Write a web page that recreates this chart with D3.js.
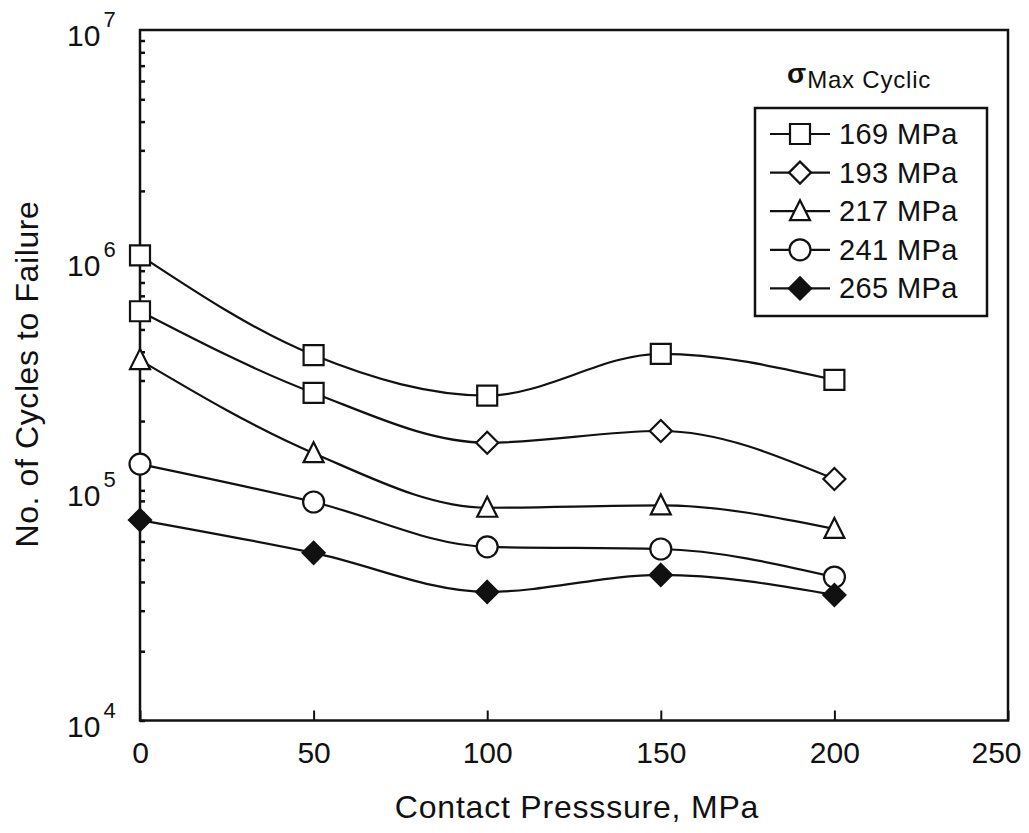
<!DOCTYPE html>
<html>
<head>
<meta charset="utf-8">
<script src="https://cdn.jsdelivr.net/npm/d3@7"></script>
<style>
  body { margin: 0; background: #fff; }
  svg { display: block; font-family: "Liberation Sans", Arial, sans-serif; }
</style>
</head>
<body>
<svg id="chart" width="1029" height="833"></svg>
<script>
// data
var pressures = [0, 50, 100, 150, 200];
var stressLabels = ["169 MPa", "193 MPa", "217 MPa", "241 MPa", "265 MPa"];
var cycles169 = [1.05e6, 3.87e5, 2.58e5, 3.92e5, 3.02e5];
var cycles193 = [6.0e5, 2.65e5, 1.61e5, 1.81e5, 1.12e5];
var cycles217 = [3.68e5, 1.45e5, 8.4e4, 8.6e4, 6.8e4];
var cycles241 = [1.30e5, 8.9e4, 5.68e4, 5.56e4, 4.2e4];
var cycles265 = [7.43e4, 5.35e4, 3.62e4, 4.29e4, 3.51e4];
var symbolNames = ["square", "diamond", "triangle", "circle", "filledDiamond"];
// the 193 MPa curve is drawn with squares on its first two points in the original
var symbols193 = ["square", "square", "diamond", "diamond", "diamond"];
var xTicks = [0, 50, 100, 150, 200, 250];
var yDecades = [1e4, 1e5, 1e6, 1e7];

var allCycles = [cycles169, cycles193, cycles217, cycles241, cycles265];

var svg = d3.select("#chart");
var plotLeft = 140, plotRight = 1008, plotTop = 30, plotBottom = 720.5;

var x = d3.scaleLinear().domain([0, 250]).range([plotLeft, plotRight]);
var y = d3.scaleLog().domain([1e4, 1e7]).range([plotBottom, plotTop]);

function markerPath(name, size) {
    var h = size / 2;
    if (name == "square")
        return "M" + (-h) + "," + (-h) + "H" + h + "V" + h + "H" + (-h) + "Z";
    if (name == "diamond" || name == "filledDiamond")
        return "M0," + (-h - 1) + "L" + (h + 1) + ",0L0," + (h + 1) + "L" + (-h - 1) + ",0Z";
    if (name == "triangle")
        return "M0," + (-h - 1) + "L" + h + "," + (h - 1) + "L" + (-h) + "," + (h - 1) + "Z";
    // circle
    return "M" + h + ",0A" + h + "," + h + " 0 1,1 " + (-h) + ",0A" + h + "," + h + " 0 1,1 " + h + ",0Z";
}

// y axis: minor ticks inside
var yTickVals = [];
yDecades.forEach(function(d, i) {
    if (i < yDecades.length - 1) {
        for (var k = 1; k < 10; k++) yTickVals.push(d * k);
    }
});
var yAxis = d3.axisLeft(y).tickValues(yTickVals).tickSize(-5).tickFormat("");
svg.append("g")
    .attr("transform", "translate(" + plotLeft + ",0)")
    .call(yAxis)
    .call(function(g) { g.select(".domain").remove(); })
    .selectAll("line").attr("stroke", "#111").attr("stroke-width", 2.5);

// x axis: ticks inside, pointing up
var xAxis = d3.axisBottom(x).tickValues(xTicks).tickSize(-10).tickFormat(d3.format("d"));
var gx = svg.append("g")
    .attr("transform", "translate(0," + plotBottom + ")")
    .call(xAxis);
gx.select(".domain").remove();
gx.selectAll("line").attr("stroke", "#111").attr("stroke-width", 2);
gx.selectAll("text")
    .attr("y", 42)
    .attr("dy", null)
    .attr("x", function(d) { return d == 250 ? -12 : 0; })
    .attr("fill", "#111")
    .style("font-size", "30px")
    .style("font-family", "Liberation Sans, Arial, sans-serif");

// plot frame
svg.append("rect")
    .attr("x", plotLeft).attr("y", plotTop)
    .attr("width", plotRight - plotLeft).attr("height", plotBottom - plotTop)
    .attr("fill", "none").attr("stroke", "#111").attr("stroke-width", 2.5);

// decade labels 10^n
var yLab = svg.append("g").selectAll("text")
    .data(yDecades)
    .enter().append("text")
    .attr("x", 67)
    .attr("y", function(d) { return y(d) + 16; })
    .attr("fill", "#111")
    .style("font-size", "30px");
yLab.append("tspan").text("10");
yLab.append("tspan")
    .attr("dx", 3).attr("dy", -19)
    .style("font-size", "22px")
    .text(function(d) { return Math.round(Math.log10(d)); });

// axis titles
svg.append("text")
    .attr("x", 577).attr("y", 818)
    .attr("text-anchor", "middle")
    .attr("fill", "#111")
    .style("font-size", "32px")
    .style("letter-spacing", "0.8px")
    .text("Contact Presssure, MPa");

svg.append("text")
    .attr("transform", "translate(38,374) rotate(-90)")
    .attr("text-anchor", "middle")
    .attr("fill", "#111")
    .style("font-size", "32px")
    .style("letter-spacing", "0.6px")
    .text("No. of Cycles to Failure");

// curves
var line = d3.line()
    .x(function(d, i) { return x(pressures[i]); })
    .y(function(d) { return y(d); })
    .curve(d3.curveMonotoneX);

svg.append("g").selectAll("path")
    .data(allCycles)
    .enter().append("path")
    .attr("d", line)
    .attr("fill", "none")
    .attr("stroke", "#111")
    .attr("stroke-width", 2.2);

allCycles.forEach(function(series, s) {
    svg.append("g").selectAll("path")
        .data(series)
        .enter().append("path")
        .attr("transform", function(d, i) { return "translate(" + x(pressures[i]) + "," + y(d) + ")"; })
        .attr("d", function(d, i) {
            var name = s == 1 ? symbols193[i] : symbolNames[s];
            return markerPath(name, name == "circle" ? 21 : 20);
        })
        .attr("fill", symbolNames[s] == "filledDiamond" ? "#111" : "#fff")
        .attr("stroke", "#111")
        .attr("stroke-width", 2.2);
});

// legend
var legX = 755, legY = 108, legW = 232, legH = 208;
var title = svg.append("text")
    .attr("x", 787).attr("y", 83)
    .attr("fill", "#111");
title.append("tspan").style("font-size", "28px").style("font-weight", "bold").text("σ");
title.append("tspan").attr("dy", 5).attr("dx", 1).style("font-size", "24px").style("letter-spacing", "0.8px").text("Max Cyclic");

svg.append("rect")
    .attr("x", legX).attr("y", legY)
    .attr("width", legW).attr("height", legH)
    .attr("fill", "#fff").attr("stroke", "#111").attr("stroke-width", 2.5);

var rows = svg.append("g").selectAll("g")
    .data(stressLabels)
    .enter().append("g")
    .attr("transform", function(d, i) { return "translate(0," + (134 + i * 38.6) + ")"; });

rows.append("line")
    .attr("x1", 770).attr("x2", 830)
    .attr("stroke", "#111").attr("stroke-width", 2.2);
rows.append("path")
    .attr("transform", "translate(800,0)")
    .attr("d", function(d, i) { return markerPath(symbolNames[i], symbolNames[i] == "circle" ? 21 : 20); })
    .attr("fill", function(d, i) { return symbolNames[i] == "filledDiamond" ? "#111" : "#fff"; })
    .attr("stroke", "#111").attr("stroke-width", 2.2);
rows.append("text")
    .attr("x", 839).attr("y", 10)
    .attr("fill", "#111")
    .style("font-size", "29px")
    .style("letter-spacing", "0.4px")
    .text(function(d) { return d; });
</script>
</body>
</html>
